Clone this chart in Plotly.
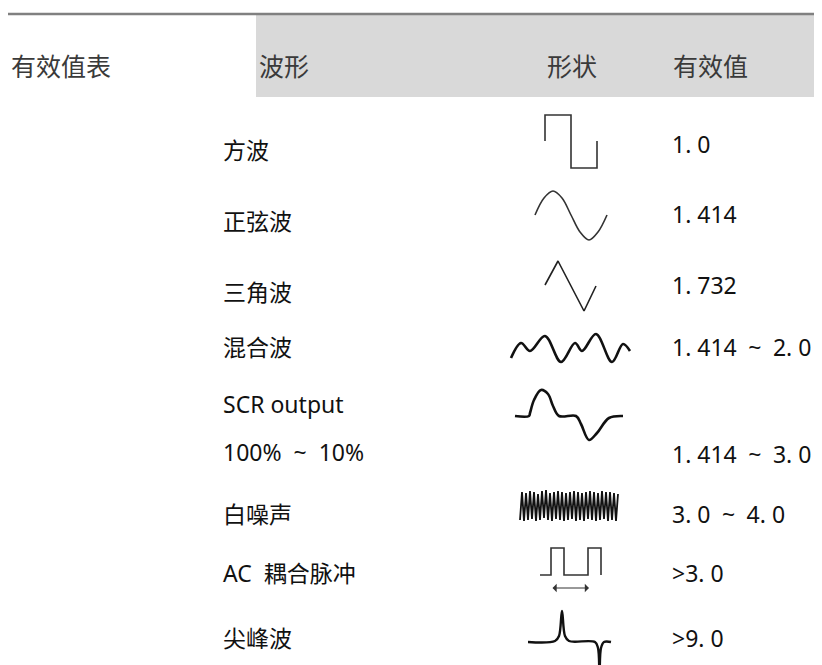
import plotly.graph_objects as go

# ------------------------------------------------------------
# Table content
# ------------------------------------------------------------
title = "有效值表"
headers = ["波形", "形状", "有效值"]
wave_names = ["方波", "正弦波", "三角波", "混合波", "SCR output", "100%&nbsp;&nbsp;~&nbsp;&nbsp;10%",
              "白噪声", "AC&nbsp;&nbsp;耦合脉冲", "尖峰波"]
crest_values = ["1.&nbsp;0", "1.&nbsp;414", "1.&nbsp;732", "1.&nbsp;414&#8194;~&#8194;2.&nbsp;0", "",
                "1.&nbsp;414&#8194;~&#8194;3.&nbsp;0", "3.&nbsp;0&#8194;~&#8194;4.&nbsp;0",
                "&gt;3.&nbsp;0", "&gt;9.&nbsp;0"]

# waveform icons (local px, x from icon left, y from icon baseline)
sq_x = [0, 0, 26, 26, 52, 52]
sq_y = [0, -26, -26, 27, 27, 0]
sine_x = [0, 9, 18, 27, 36, 45, 54, 63, 72]
sine_y = [0, -17, -24, -17, 0, 17, 25, 17, 0]
tri_x = [0, 13, 39, 51]
tri_y = [0, -24, 26, 1]
mix_x = [0, 10, 19, 34, 50, 64, 71, 85, 101, 112, 119]
mix_y = [10, -5, 3, -12, 14, -5, 3, -14, 14, -4, 3]
scr_x = [0, 14, 15, 19, 26, 33, 38, 44, 61, 66, 74, 82, 94, 108]
scr_y = [0, 0, -3, -16, -26, -22, -10, 0, 0, 8, 24, 17, 2, 0]
noise_x = [0, 2, 4, 6, 8, 10, 12, 14, 16, 18, 20, 22, 24, 26, 28, 30, 32, 34, 36, 38, 40, 42, 44, 46, 48,
           50, 52, 54, 56, 58, 60, 62, 64, 66, 68, 70, 72, 74, 76, 78, 80, 82, 84, 86, 88, 90, 92, 94, 96, 98]
noise_y = [14, -14, 15, -13, 14, -15, 13, -14, 15, -12, 14, -15, 12, -16, 14, -13, 15, -14, 13, -15,
           14, -14, 15, -13, 14, -14, 13, -15, 15, -14, 14, -13, 15, -14, 13, -15, 14, -14, 15, -13,
           14, -15, 13, -14, 15, -14, 14, -13, 15, -12]
pulse_x = [0, 11, 11, 24, 24, 48, 48, 61, 61]
pulse_y = [0, 0, -27, -27, 0, 0, -27, -27, 0]
spike_x = [0, 27, 31, 34, 37, 41, 67, 70, 71.5, 73, 76, 83]
spike_y = [0, -1, -6, -31, -6, -1, 0, 6, 29, 6, 0, 0]

# ------------------------------------------------------------
# Layout (page px)
# ------------------------------------------------------------
W, H = 822, 665
row_label_y = [142, 213, 284, 339, 396, 444, 506, 565, 630]
row_value_y = [136, 206, 277, 339, 396, 446, 506, 565, 630]
label_x = 213
value_x = 662

icons = [
    (sq_x, sq_y, 537, 133, "linear", 1.6, "#333333"),
    (sine_x, sine_y, 527, 207, "spline", 1.6, "#333333"),
    (tri_x, tri_y, 537, 277, "linear", 1.6, "#222222"),
    (mix_x, mix_y, 503, 340, "spline", 2.6, "#111111"),
    (scr_x, scr_y, 507, 408, "spline", 2.6, "#111111"),
    (noise_x, noise_y, 512, 498, "linear", 1.8, "#111111"),
    (pulse_x, pulse_y, 532, 567, "linear", 1.6, "#333333"),
    (spike_x, spike_y, 520, 634, "spline", 2.4, "#111111"),
]

fig = go.Figure()

for xs, ys, ox, oy, shape, lw, col in icons:
    fig.add_trace(go.Scatter(
        x=[ox + v for v in xs], y=[oy + v for v in ys], mode="lines",
        line=dict(color=col, width=lw, shape=shape, smoothing=1.0),
        hoverinfo="skip", showlegend=False))

# double-headed arrow under the AC pulse
fig.add_annotation(x=581, y=580, ax=543, ay=580, xref="x", yref="y", axref="x", ayref="y",
                   text="", showarrow=True, arrowside="end+start", arrowhead=1,
                   arrowsize=1.4, arrowwidth=1, arrowcolor="#333333")

# header band
fig.add_shape(type="rect", x0=248, x1=W, y0=7, y1=89, fillcolor="#d9d9d9", line_width=0, layer="below")
fig.add_shape(type="line", x0=0, x1=W, y0=6, y1=6, line=dict(color="#808080", width=2.5))

cjk = "Noto Sans CJK SC"
body = "Noto Sans, Noto Sans CJK SC"
fig.add_annotation(x=1, y=57, text=title, showarrow=False, xanchor="left", yanchor="middle",
                   font=dict(family=cjk, size=25, color="#3a3a3a"))
for txt, hx in zip(headers, [249, 537, 663]):
    fig.add_annotation(x=hx, y=57, text=txt, showarrow=False, xanchor="left", yanchor="middle",
                       font=dict(family=cjk, size=25, color="#3a3a3a"))

for txt, ty in zip(wave_names, row_label_y):
    fig.add_annotation(x=label_x, y=ty, text=txt, showarrow=False, xanchor="left", yanchor="middle",
                       font=dict(family=body, size=23, color="#111111"))
for txt, ty in zip(crest_values, row_value_y):
    if txt:
        fig.add_annotation(x=value_x, y=ty, text=txt, showarrow=False, xanchor="left", yanchor="middle",
                           font=dict(family=body, size=23, color="#111111"))

fig.update_xaxes(range=[0, W], visible=False, fixedrange=True)
fig.update_yaxes(range=[H, 0], visible=False, fixedrange=True)
fig.update_layout(width=W, height=H, margin=dict(l=0, r=0, t=0, b=0),
                  plot_bgcolor="white", paper_bgcolor="white", showlegend=False)

fig.write_html("out.html")
